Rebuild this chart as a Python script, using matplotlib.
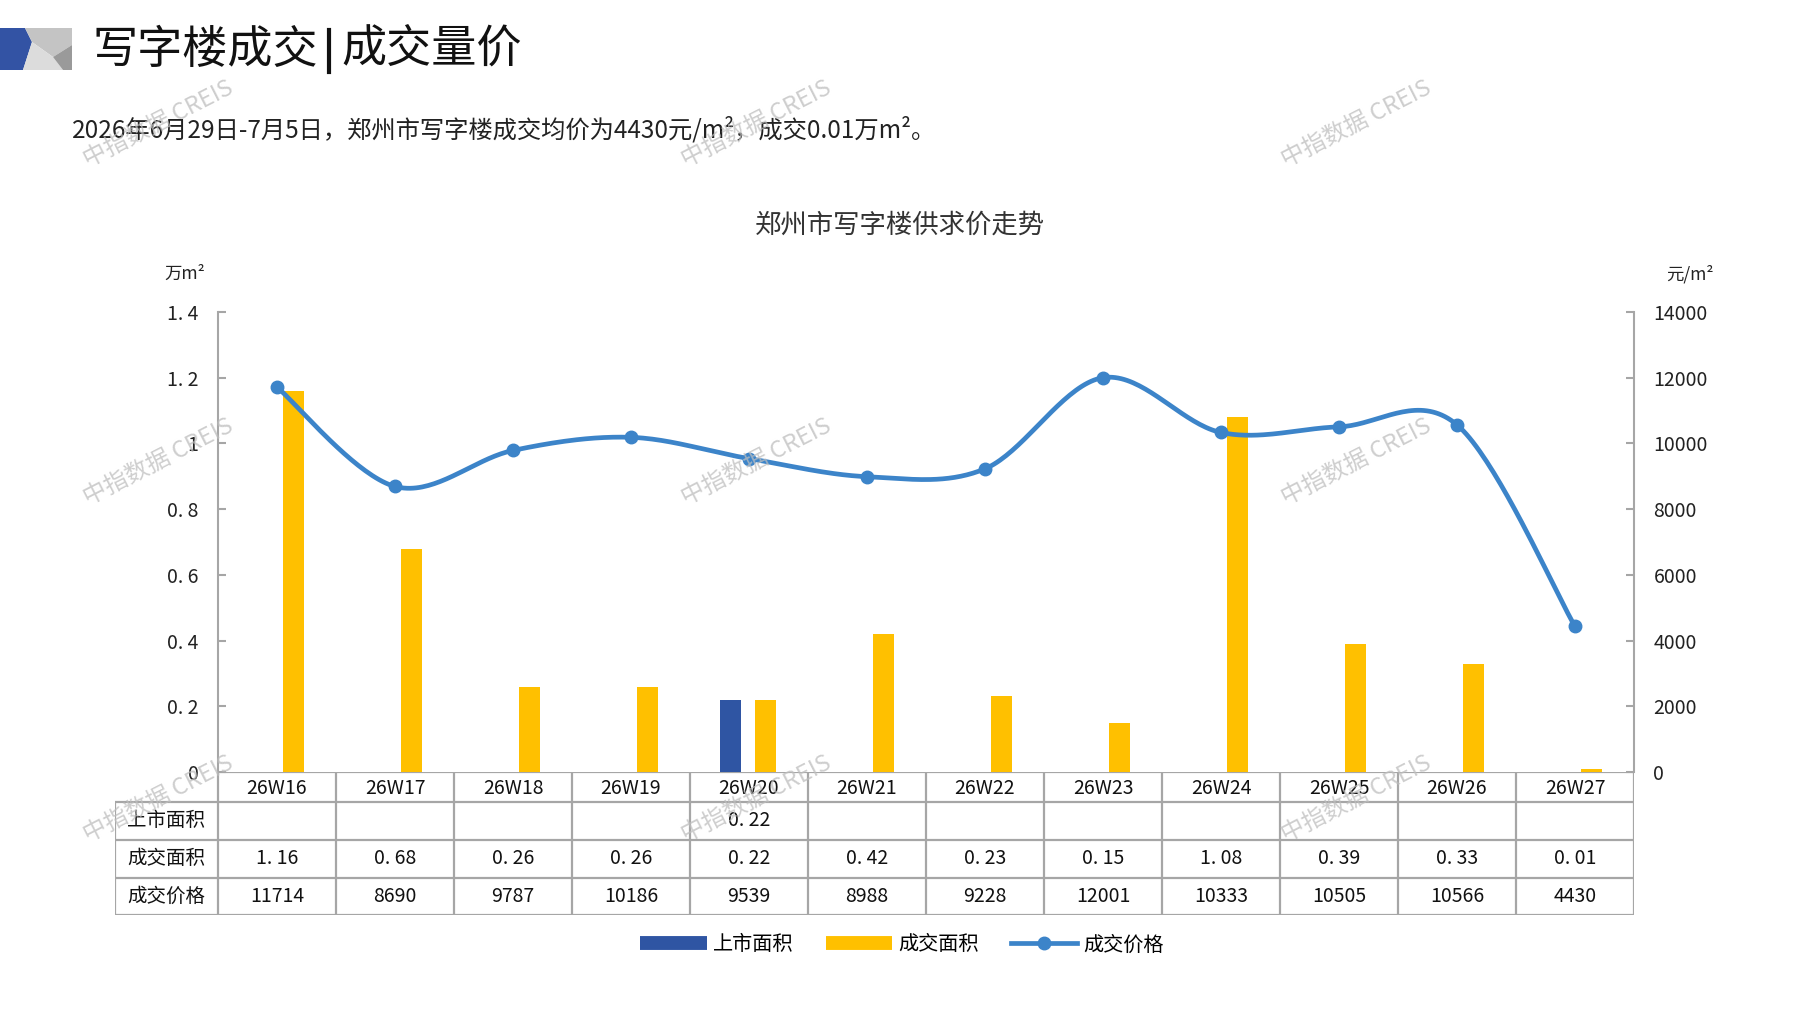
import numpy as np
import matplotlib
matplotlib.use('Agg')
import matplotlib.pyplot as plt
from matplotlib.patches import Polygon
from matplotlib.lines import Line2D

plt.rcParams['font.family'] = ['Noto Sans CJK SC', 'DejaVu Sans']

weeks = ['26W16', '26W17', '26W18', '26W19', '26W20', '26W21',
         '26W22', '26W23', '26W24', '26W25', '26W26', '26W27']
supply_area = [np.nan, np.nan, np.nan, np.nan, 0.22, np.nan,
               np.nan, np.nan, np.nan, np.nan, np.nan, np.nan]
deal_area = [1.16, 0.68, 0.26, 0.26, 0.22, 0.42, 0.23, 0.15, 1.08, 0.39, 0.33, 0.01]
deal_price = [11714, 8690, 9787, 10186, 9539, 8988, 9228, 12001, 10333, 10505, 10566, 4430]
row_names = ['上市面积', '成交面积', '成交价格']
left_ticks = [0, 0.2, 0.4, 0.6, 0.8, 1.0, 1.2, 1.4]
right_ticks = [0, 2000, 4000, 6000, 8000, 10000, 12000, 14000]

W, H = 1797, 1010
BLUE = '#2F55A3'
YELLOW = '#FFC000'
LINE = '#3C84C9'
GRID = '#A6A6A6'


def fmt_area(v):
    if np.isnan(v):
        return ''
    return f'{v:.2f}'.replace('.', '. ')


def fmt_tick(v):
    if v == 0:
        return '0'
    if abs(v - round(v)) < 1e-9:
        return str(int(round(v)))
    return f'{v:.1f}'.replace('.', '. ')


def smooth(xs, ys, n=40):
    # excel-like smoothed line (catmull-rom bezier)
    p = np.column_stack([xs, ys]).astype(float)
    out = []
    for i in range(len(p) - 1):
        p0 = p[i - 1] if i > 0 else p[i]
        p1, p2 = p[i], p[i + 1]
        p3 = p[i + 2] if i + 2 < len(p) else p[i + 1]
        c1 = p1 + (p2 - p0) / 6
        c2 = p2 - (p3 - p1) / 6
        t = np.linspace(0, 1, n)[:, None]
        seg = ((1 - t) ** 3) * p1 + 3 * ((1 - t) ** 2) * t * c1 + 3 * (1 - t) * t ** 2 * c2 + t ** 3 * p2
        out.append(seg if i == 0 else seg[1:])
    out = np.vstack(out)
    return out[:, 0], out[:, 1]


fig = plt.figure(figsize=(W / 100, H / 100), dpi=100)

# background layer in pixel coordinates
bg = fig.add_axes([0, 0, 1, 1])
bg.set_xlim(0, W)
bg.set_ylim(H, 0)
bg.axis('off')

bg.add_patch(Polygon([(0, 28), (25, 28), (32, 42), (23, 70), (0, 70)], color='#3353A4', lw=0))
bg.add_patch(Polygon([(25, 28), (72, 28), (72, 45), (53, 57), (32, 42)], color='#C4C4C4', lw=0))
bg.add_patch(Polygon([(32, 42), (53, 57), (63, 70), (23, 70)], color='#DCDCDC', lw=0))
bg.add_patch(Polygon([(53, 57), (72, 45), (72, 70), (63, 70)], color='#9A9A9A', lw=0))

bg.text(92, 50, '写字楼成交', fontsize=32.5, va='center', ha='left', color='#111111')
bg.plot([329, 329], [30, 72], color='#111111', lw=3)
bg.text(341, 50, '成交量价', fontsize=32.5, va='center', ha='left', color='#111111')
bg.text(72, 130, '2026年6月29日-7月5日，郑州市写字楼成交均价为4430元/m²，成交0.01万m²。',
        fontsize=17.5, va='center', ha='left', color='#222222')
bg.text(900, 225, '郑州市写字楼供求价走势', fontsize=19, va='center', ha='center', color='#333333')
bg.text(185, 274, '万m²', fontsize=12.5, va='center', ha='center', color='#222222')
bg.text(1690, 274, '元/m²', fontsize=12.5, va='center', ha='center', color='#222222')

# main chart
x0, x1, y0, y1 = 218, 1634, 772, 312
ax = fig.add_axes([x0 / W, 1 - y0 / H, (x1 - x0) / W, (y0 - y1) / H])
ax.set_facecolor('none')
idx = np.arange(len(weeks))
bw = 0.178
ax.bar(idx - 0.153, supply_area, width=bw, color=BLUE, zorder=2)
ax.bar(idx + 0.136, deal_area, width=bw, color=YELLOW, zorder=2)
ax.set_xlim(-0.5, len(weeks) - 0.5)
ax.set_ylim(0, 1.4)
ax.set_yticks(left_ticks)
ax.set_yticklabels([fmt_tick(v) for v in left_ticks], fontsize=14, color='#222222')
ax.set_xticks([])
for s in ['top', 'bottom']:
    ax.spines[s].set_visible(False)
ax.spines['right'].set_visible(False)
ax.spines['left'].set_color(GRID)
ax.spines['left'].set_linewidth(1.5)
ax.tick_params(axis='y', direction='in', length=6, width=1.5, color=GRID, pad=14)

ax2 = ax.twinx()
ax2.set_ylim(0, 14000)
ax2.set_yticks(right_ticks)
ax2.set_yticklabels([str(v) for v in right_ticks], fontsize=14, color='#222222')
for s in ['top', 'bottom', 'left']:
    ax2.spines[s].set_visible(False)
ax2.spines['right'].set_color(GRID)
ax2.spines['right'].set_linewidth(1.5)
ax2.tick_params(axis='y', direction='in', length=6, width=1.5, color=GRID, pad=14)
sx, sy = smooth(idx, deal_price)
ax2.plot(sx, sy, color=LINE, lw=3.4, zorder=3, solid_capstyle='round')
ax2.plot(idx, deal_price, 'o', color=LINE, ms=9, zorder=4)

# data table under the chart
tl = 115
row_edges = [772, 802, 840, 878, 915]
slot = (x1 - x0) / len(weeks)
tab = fig.add_axes([tl / W, 1 - row_edges[-1] / H, (x1 - tl) / W, (row_edges[-1] - row_edges[0]) / H])
lab_w = (x0 - tl) / slot
tab.set_xlim(-0.5 - lab_w, len(weeks) - 0.5)
tab.set_ylim(row_edges[-1], row_edges[0])
tab.axis('off')
lk = dict(color=GRID, lw=1.6, solid_capstyle='butt')
tab.plot([-0.5, len(weeks) - 0.5], [row_edges[0]] * 2, **lk)
for r in row_edges[1:]:
    tab.plot([-0.5 - lab_w, len(weeks) - 0.5], [r, r], **lk)
for i in range(len(weeks) + 1):
    tab.plot([i - 0.5, i - 0.5], [row_edges[0], row_edges[-1]], **lk)
tab.plot([-0.5 - lab_w] * 2, [row_edges[1], row_edges[-1]], **lk)

mid = [(row_edges[k] + row_edges[k + 1]) / 2 for k in range(4)]
for i, wk in enumerate(weeks):
    tab.text(i, mid[0] + 2, wk, ha='center', va='center', fontsize=14, color='#111111')
    tab.text(i, mid[1], fmt_area(supply_area[i]), ha='center', va='center', fontsize=14, color='#111111')
    tab.text(i, mid[2], fmt_area(deal_area[i]), ha='center', va='center', fontsize=14, color='#111111')
    tab.text(i, mid[3], str(deal_price[i]), ha='center', va='center', fontsize=14, color='#111111')
for k, name in enumerate(row_names):
    tab.text(-0.5 - lab_w / 2, mid[k + 1], name, ha='center', va='center', fontsize=14, color='#111111')

# legend
handles = [Line2D([0], [0], color=BLUE, lw=10, solid_capstyle='butt'),
           Line2D([0], [0], color=YELLOW, lw=10, solid_capstyle='butt'),
           Line2D([0], [0], color=LINE, lw=3.4, marker='o', ms=9)]
fig.legend(handles, ['上市面积', '成交面积', '成交价格'], loc='center', bbox_to_anchor=(902 / W, 1 - 945 / H),
           ncol=3, frameon=False, fontsize=14.5, handlelength=3.3, handletextpad=0.3, columnspacing=1.6)

# watermarks
wm = fig.add_axes([0, 0, 1, 1], zorder=10)
wm.set_xlim(0, W)
wm.set_ylim(H, 0)
wm.axis('off')
for wy in [124, 462, 799]:
    for wx in [158, 756, 1356]:
        wm.text(wx, wy, '中指数据 CREIS', fontsize=17, rotation=27, ha='center', va='center',
                color='#BEBEBE', alpha=0.75)

fig.savefig('out.png', dpi=100)
